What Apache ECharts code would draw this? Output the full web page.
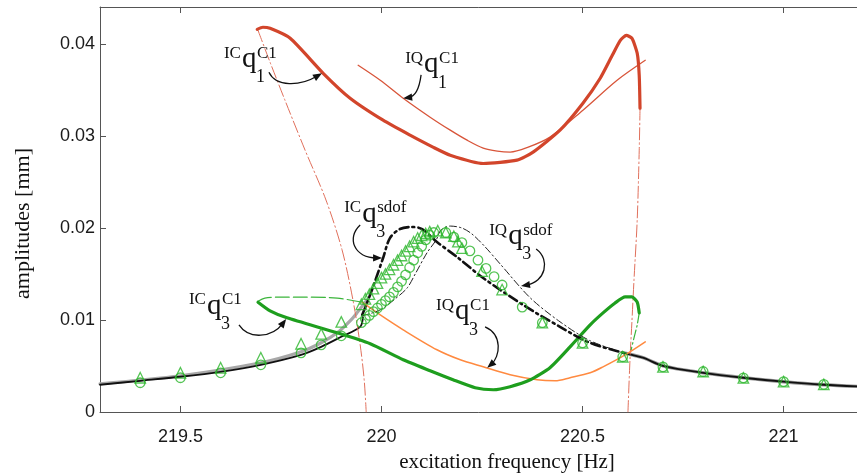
<!DOCTYPE html>
<html><head><meta charset="utf-8">
<script src="https://cdn.jsdelivr.net/npm/echarts@6/dist/echarts.min.js"></script>
<style>html,body{margin:0;padding:0;background:#fff}#c{width:857px;height:475px}</style>
</head><body><div id="c"></div>
<script>
// ---- axes ----
const xTicks = [219.5, 220, 220.5, 221];
const yTicks = [0, 0.01, 0.02, 0.03, 0.04];

// ---- curves: [frequency Hz, amplitude mm] ----
const blackLeft = [[219.30,0.00296],[219.40,0.00339],[219.50,0.00383],[219.60,0.00437],[219.70,0.00513],[219.80,0.00621],[219.85,0.00708],[219.90,0.00817],[219.947,0.00925],[219.954,0.0103]];
const grayLeft = [[219.30,0.00307],[219.50,0.00394],[219.70,0.00535],[219.80,0.00654],[219.85,0.00752],[219.89,0.00860],[219.922,0.00990],[219.939,0.01077],[219.964,0.01218]];
const blackRight = [[220.606,0.00638],[220.65,0.0059],[220.70,0.00502],[220.80,0.00426],[220.90,0.00372],[221.00,0.00329],[221.10,0.00296],[221.20,0.00275]];

const icSdof = [[219.952,0.01055],[219.964,0.01185],[219.979,0.01359],[220.004,0.01673],[220.021,0.01890],[220.046,0.01988],[220.076,0.02010],[220.101,0.01988],[220.138,0.01847],[220.188,0.01684],[220.253,0.01456],[220.352,0.01164],[220.444,0.00925],[220.519,0.00751],[220.606,0.00638]];
const iqSdof = [[219.952,0.01044],[219.997,0.01110],[220.034,0.01229],[220.064,0.01348],[220.084,0.01500],[220.113,0.01728],[220.136,0.01869],[220.148,0.01977],[220.171,0.02020],[220.200,0.01999],[220.225,0.01934],[220.258,0.01793],[220.295,0.01609],[220.370,0.01240],[220.444,0.00980],[220.519,0.00774],[220.606,0.00638]];

const icQ1 = [[219.691,0.04157],[219.705,0.04180],[219.723,0.04168],[219.773,0.04060],[219.855,0.03680],[219.922,0.03409],[220.004,0.03170],[220.071,0.03008],[220.128,0.02878],[220.171,0.0279],[220.253,0.0270],[220.337,0.02736],[220.377,0.02823],[220.444,0.03062],[220.501,0.03355],[220.544,0.03626],[220.574,0.03875],[220.594,0.04038],[220.609,0.04092],[220.623,0.04059],[220.636,0.03897],[220.641,0.03658],[220.643,0.03300]];
const icQ1UnstableLeft = [[219.693,0.04146],[219.723,0.03799],[219.760,0.03387],[219.810,0.02845],[219.862,0.02303],[219.902,0.01761],[219.929,0.01218],[219.947,0.00730],[219.957,0.00350],[219.962,0]];
const icQ1UnstableRight = [[220.643,0.033],[220.641,0.02845],[220.636,0.02086],[220.628,0.01435],[220.623,0.00996],[220.618,0.00567],[220.613,0]];
const iqQ1 = [[219.942,0.03767],[219.997,0.03604],[220.054,0.03409],[220.121,0.03203],[220.171,0.03062],[220.213,0.02953],[220.253,0.02867],[220.288,0.02834],[220.320,0.02823],[220.365,0.02877],[220.419,0.02986],[220.501,0.03279],[220.586,0.03604],[220.656,0.03821]];

const icQ3 = [[219.693,0.01193],[219.723,0.01099],[219.765,0.01023],[219.890,0.00860],[219.972,0.00741],[220.054,0.00567],[220.121,0.00448],[220.178,0.00350],[220.233,0.00264],[220.278,0.00242],[220.320,0.00275],[220.370,0.00350],[220.419,0.00481],[220.469,0.00708],[220.519,0.00947],[220.551,0.01077],[220.581,0.01185],[220.606,0.01250],[220.623,0.01250],[220.636,0.01193],[220.641,0.01077]];
const icQ3UnstableLeft = [[219.693,0.01204],[219.710,0.01237],[219.748,0.01248],[219.805,0.01248],[219.890,0.01237],[219.952,0.01193]];
const icQ3UnstableRight = [[220.641,0.01077],[220.636,0.00947],[220.628,0.00806],[220.621,0.00676]];
const iqQ3 = [[219.952,0.01193],[219.997,0.01055],[220.054,0.00893],[220.138,0.00676],[220.196,0.00567],[220.253,0.00491],[220.320,0.00405],[220.387,0.00350],[220.432,0.00339],[220.469,0.00372],[220.519,0.00426],[220.551,0.00491],[220.606,0.00621],[220.656,0.00762]];

// ---- measured points ----
const triangles = [[219.40,0.00372],[219.50,0.00426],[219.60,0.00480],[219.70,0.00589],[219.80,0.00741],[219.85,0.00849],[219.90,0.00979],[219.95,0.0117],[219.96,0.0123],[219.97,0.0128],[219.98,0.0134],[219.99,0.0140],[220.00,0.0146],[220.01,0.0150],[220.02,0.0155],[220.03,0.0160],[220.04,0.0165],[220.05,0.0170],[220.06,0.0175],[220.07,0.0180],[220.08,0.0185],[220.09,0.0189],[220.10,0.0192],[220.11,0.0194],[220.12,0.0196],[220.14,0.0197],[220.16,0.0195],[220.18,0.0191],[220.19,0.0185],[220.20,0.0178],[220.25,0.0153],[220.30,0.0133],[220.40,0.0097],[220.50,0.0075],[220.60,0.0060],[220.70,0.0049],[220.80,0.0044],[220.90,0.0037],[221.00,0.0033],[221.10,0.0030]];
const circles = [[219.40,0.00318],[219.50,0.00372],[219.60,0.00426],[219.70,0.00513],[219.80,0.00643],[219.85,0.00730],[219.90,0.00828],[219.95,0.0097],[219.96,0.0101],[219.97,0.0105],[219.98,0.0109],[219.99,0.0113],[220.00,0.0117],[220.01,0.0121],[220.02,0.0125],[220.03,0.0130],[220.04,0.0136],[220.05,0.0142],[220.06,0.0149],[220.07,0.0157],[220.08,0.0165],[220.09,0.0173],[220.10,0.0180],[220.11,0.0187],[220.12,0.0192],[220.13,0.0195],[220.16,0.0195],[220.18,0.0190],[220.20,0.0184],[220.22,0.0175],[220.24,0.0165],[220.26,0.0156],[220.28,0.0147],[220.30,0.0138],[220.35,0.0114],[220.40,0.0097],[220.50,0.0075],[220.60,0.0060],[220.70,0.0049],[220.80,0.0044],[220.90,0.0037],[221.00,0.0033],[221.10,0.0030]];

// ---- annotation labels: q anchor (data), arrow tip on curve (data) ----
const annotations = [
  {pre:'IC', sup:'C1',   sub:'1', at:[219.653,0.0381],  tip:[219.852,0.0368],  tail:[27,11],  c1:[34,26],  c2:[58,25]},
  {pre:'IQ', sup:'C1',   sub:'1', at:[220.106,0.0375],  tip:[220.054,0.0341],  tail:[-3,8],  c1:[-5,23],  c2:[-10,30]},
  {pre:'IC', sup:'sdof', sub:'3', at:[219.952,0.0213],  tip:[220.0015,0.01674],tail:[-2,9],  c1:[-16,22], c2:[-8,42]},
  {pre:'IQ', sup:'sdof', sub:'3', at:[220.315,0.0189],  tip:[220.347,0.0137],  tail:[28,11], c1:[43,22],  c2:[37,44]},
  {pre:'IC', sup:'C1',   sub:'3', at:[219.566,0.01131], tip:[219.763,0.0101],  tail:[32,17], c1:[42,32],  c2:[65,30]},
  {pre:'IQ', sup:'C1',   sub:'3', at:[220.183,0.01067], tip:[220.263,0.0048],  tail:[30,13], c1:[48,21],  c2:[45,43]}
];

const RED = '#d2452b', GREEN = '#1e9e1e', MARK = '#2bb52b', ORANGE = '#ff8a40';
function ln(data, color, width, type, z, smooth) {
  return {type:'line', data, showSymbol:false, symbol:'none', z, silent:true,
    smooth: smooth === undefined ? 0.3 : smooth,
    lineStyle:{color, width, type: type || 'solid', cap:'round', join:'round'}};
}
const serif = '"Liberation Serif", "Times New Roman", serif';
const sans = '"Liberation Sans", Arial, Helvetica, sans-serif';
const axisCol = '#555';
const chart = echarts.init(document.getElementById('c'), null, {renderer:'canvas'});
const common = {min:219.3, max:221.2};
chart.setOption({
  animation:false,
  backgroundColor:'#fff',
  grid:{left:100, top:7, width:764, height:405, containLabel:false, outerBoundsMode:'none'},
  xAxis:[
    {type:'value', ...common, position:'bottom',
     name:'excitation frequency [Hz]', nameLocation:'middle', nameGap:40,
     nameTextStyle:{fontFamily:serif, fontSize:21, color:'#111', padding:[0,0,0,50]},
     axisLine:{show:true, onZero:false, lineStyle:{color:axisCol, width:1}},
     axisTick:{show:true, inside:true, length:6, customValues:xTicks, lineStyle:{color:axisCol}},
     axisLabel:{customValues:xTicks, margin:16, fontFamily:sans, fontSize:18, color:'#1a1a1a',
       formatter:v=>String(v)},
     splitLine:{show:false}},
    {type:'value', ...common, position:'top',
     axisLine:{show:true, onZero:false, lineStyle:{color:axisCol, width:1}},
     axisTick:{show:true, inside:true, length:6, customValues:xTicks, lineStyle:{color:axisCol}},
     axisLabel:{show:false}, splitLine:{show:false}}
  ],
  yAxis:[
    {type:'value', min:0, max:0.044, position:'left',
     name:'amplitudes [mm]', nameLocation:'middle', nameGap:66,
     nameTextStyle:{fontFamily:serif, fontSize:22, color:'#111', padding:[0,28,0,0]},
     axisLine:{show:true, onZero:false, lineStyle:{color:axisCol, width:1}},
     axisTick:{show:true, inside:true, length:6, customValues:yTicks, lineStyle:{color:axisCol}},
     axisLabel:{customValues:yTicks, margin:5, fontFamily:sans, fontSize:18, color:'#1a1a1a',
       formatter:v=>String(+v.toFixed(3))},
     splitLine:{show:false}},
    {type:'value', min:0, max:0.044, position:'right',
     axisLine:{show:true, onZero:false, lineStyle:{color:axisCol, width:1}},
     axisTick:{show:true, inside:true, length:6, customValues:yTicks, lineStyle:{color:axisCol}},
     axisLabel:{show:false}, splitLine:{show:false}}
  ],
  series:[
    ln(grayLeft, '#a8a8a8', 3.2, 'solid', 1),
    ln(blackLeft, '#111', 1.8, 'solid', 2),
    ln(blackRight, '#9a9a9a', 3.4, 'solid', 1),
    ln(blackRight, '#111', 1.8, 'solid', 2),
    ln(icQ1UnstableLeft, '#e0705c', 1, [12,3,1.5,3], 3),
    ln(icQ1UnstableRight, '#e0705c', 1, [12,3,1.5,3], 3),
    ln(iqQ1, '#d8553a', 1.3, 'solid', 4),
    ln(icQ1, RED, 3.2, 'solid', 5, 0.2),
    ln(icQ3UnstableLeft, '#3bb53b', 1.2, [14,4], 4),
    ln(icQ3UnstableRight, '#3bb53b', 1.2, [10,3,1.5,3], 4),
    ln(iqQ3, ORANGE, 1.5, 'solid', 4),
    ln(icQ3, GREEN, 3.2, 'solid', 5, 0.2),
    ln(iqSdof, '#222', 1, [7,3,1.5,3], 6),
    ln(icSdof, '#111', 2.6, [9,4,2,4], 6),
    {type:'scatter', data:circles, symbol:'circle', symbolSize:9.5, z:8, silent:true,
     itemStyle:{color:'rgba(0,0,0,0)', borderColor:MARK, borderWidth:1.3}},
    {type:'scatter', data:triangles, symbol:'triangle', symbolSize:10.5, z:9, silent:true,
     itemStyle:{color:'rgba(0,0,0,0)', borderColor:MARK, borderWidth:1.3}}
  ]
});

// annotations
const g = [];
annotations.forEach(a => {
  const p = chart.convertToPixel({gridIndex:0}, a.at);
  const t = chart.convertToPixel({gridIndex:0}, a.tip);
  const ax = p[0], ay = p[1];
  const txt = (text, x, y, size, align) => ({type:'text', z:20, silent:true,
    style:{text, x, y, fontSize:size, fontFamily:serif, fill:'#111', align, verticalAlign:'middle'}});
  g.push(txt(a.pre, ax - 1, ay - 8, 17, 'right'));
  g.push(txt('q', ax, ay - 2, 29, 'left'));
  g.push(txt(a.sup, ax + 15, ay - 8, 17, 'left'));
  g.push(txt(a.sub, ax + 14, ay + 16, 18, 'left'));
  const sx = ax + a.tail[0], sy = ay + a.tail[1];
  const c1x = ax + a.c1[0], c1y = ay + a.c1[1];
  const c2x = ax + a.c2[0], c2y = ay + a.c2[1];
  let dx = t[0] - c2x, dy = t[1] - c2y; const L = Math.hypot(dx, dy); dx /= L; dy /= L;
  const hl = 9, hw = 3.6;
  const bx = t[0] - dx*hl, by = t[1] - dy*hl;
  g.push({type:'bezierCurve', z:20, silent:true,
    shape:{x1:sx, y1:sy, cpx1:c1x, cpy1:c1y, cpx2:c2x, cpy2:c2y, x2:t[0]-dx*hl*0.6, y2:t[1]-dy*hl*0.6},
    style:{stroke:'#111', lineWidth:1.3, fill:null}});
  g.push({type:'polygon', z:21, silent:true,
    shape:{points:[[t[0],t[1]],[bx - dy*hw, by + dx*hw],[bx + dy*hw, by - dx*hw]]},
    style:{fill:'#111'}});
});
chart.setOption({graphic:g});
</script></body></html>
